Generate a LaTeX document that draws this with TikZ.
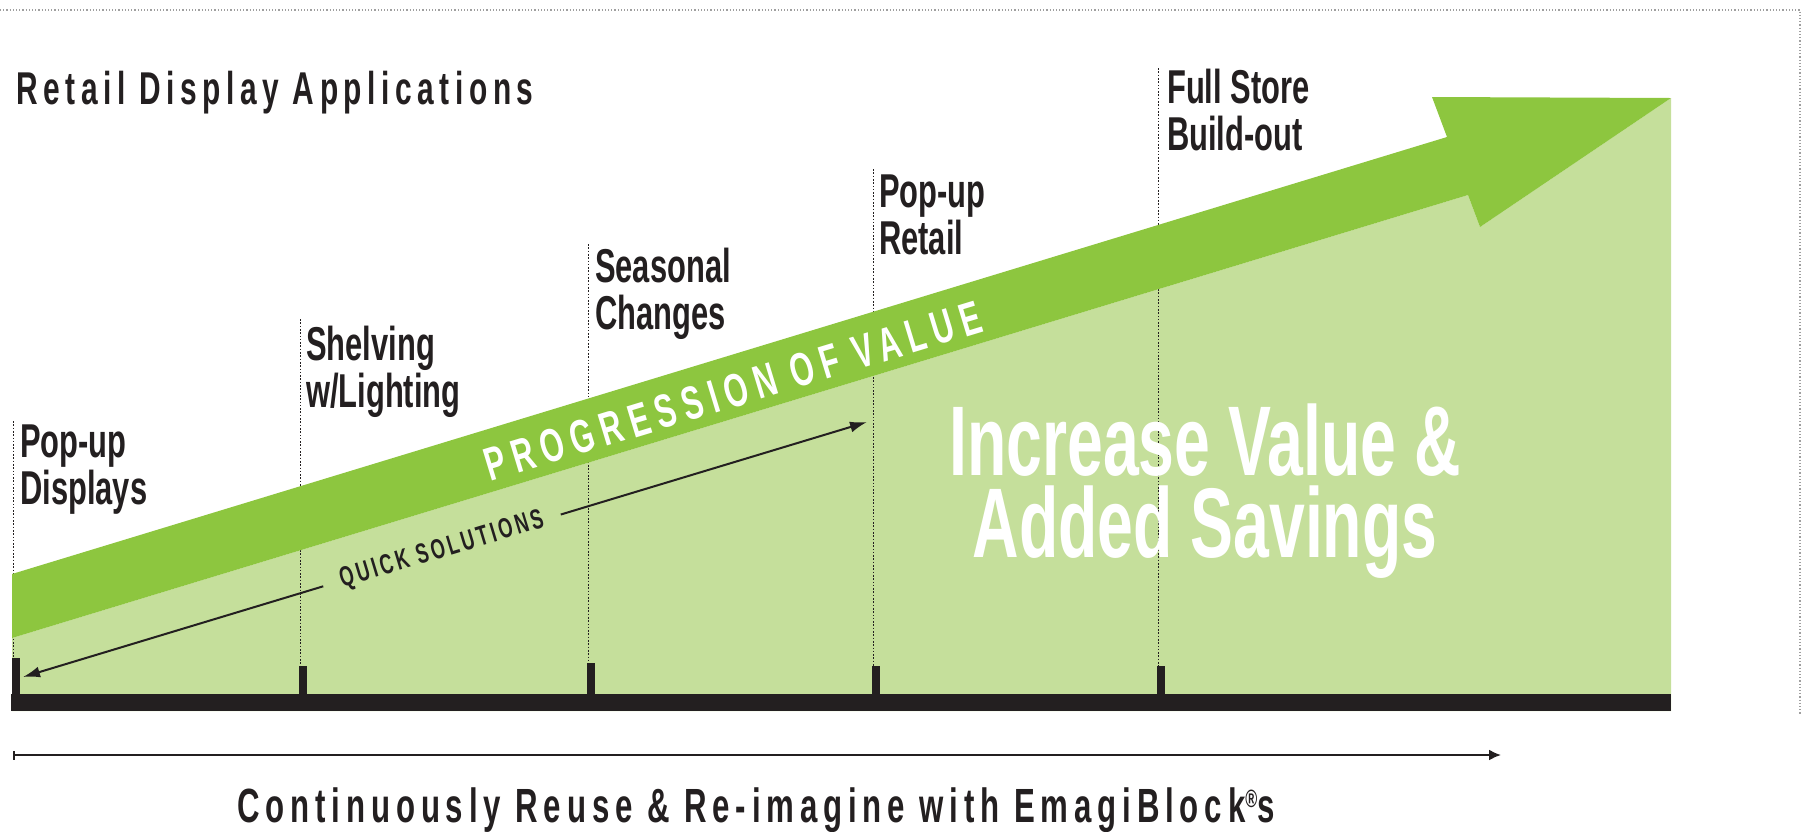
\documentclass[tikz,border=0pt]{standalone}
\usepackage{fontspec}
\setmainfont{Liberation Sans}
\newfontfamily\din[FakeStretch=0.65]{Liberation Sans}
\usetikzlibrary{arrows.meta}
\definecolor{dg}{HTML}{8DC63F}
\definecolor{lg}{HTML}{C5DF9B}
\definecolor{ink}{HTML}{231F20}
\begin{document}
\begin{tikzpicture}[x=1pt,y=-1pt,
  lbl/.style={anchor=base west, inner sep=0pt, align=left, text=ink, font=\din\bfseries\fontsize{47.5}{47}\selectfont},
  dotv/.style={ink, line width=1.8pt, dash pattern=on 1.6pt off 1.7pt},
  tickbox/.style={fill=ink, draw=none, inner sep=0pt, minimum width=8pt, anchor=south west},
  qarrow/.style={ink, line width=2pt, -{Latex[length=17pt,width=11pt]}},
]
\useasboundingbox (0,0) rectangle (1806,831);
% frame dots
\coordinate (fL) at (0,10);
\coordinate (fC) at (1800,10);
\coordinate (fB) at (1800,714);
\draw[gray!75, line width=1.3pt, dash pattern=on 1.2pt off 2pt] (fL) -- (fC) -- (fB);
% light green area
\fill[lg] (12,711) -- (12,638) -- (1468,195) -- (1480,227) -- (1671,98) -- (1671,711) -- cycle;
% ticks
\node[tickbox, minimum height=36pt] (t1) at (12,694) {};
\node[tickbox, minimum height=28pt] (t2) at (299,694) {};
\node[tickbox, minimum height=31pt] (t3) at (587,694) {};
\node[tickbox, minimum height=28pt] (t4) at (872,694) {};
\node[tickbox, minimum height=28pt] (t5) at (1157,694) {};
% dotted verticals
\coordinate (d1) at (13.5,421);
\coordinate (d2) at (300.5,319);
\coordinate (d3) at (588.5,244);
\coordinate (d4) at (873.5,169);
\coordinate (d5) at (1158.5,68);
\foreach \i in {1,...,5} \draw[dotv] (d\i) -- (d\i |- t\i.north);
% dark arrow
\fill[dg] (12,574) -- (1447,137) -- (1432,97) -- (1671,98) -- (1480,227) -- (1468,195) -- (12,638) -- cycle;
% base bar
\fill[ink] (11,694) rectangle (1671,711);
% title
\node[anchor=base west, inner sep=0pt, text=ink, font={\din\bfseries\fontsize{46}{46}\selectfont\addfontfeature{LetterSpace=12.1}}] (title) at (16,104) {Retail Display Applications};
% labels (anchor = baseline of last line)
\node[lbl] (l1) at (20,504) {Pop-up\\Displays};
\node[lbl] (l2) at (306,407) {Shelving\\w/Lighting};
\node[lbl] (l3) at (595,329) {Seasonal\\Changes};
\node[lbl] (l4) at (879,254) {Pop-up\\Retail};
\node[lbl] (l5) at (1167,150) {Full Store\\Build-out};
% progression
\node[rotate=16.94, inner sep=0pt, text=white, font={\din\bfseries\fontsize{47}{47}\selectfont\addfontfeature{LetterSpace=16}}] (prog) at (733,391) {PROGRESSION OF VALUE};
% big text
\node[anchor=base, align=center, inner sep=0pt, text=white, font=\din\bfseries\fontsize{99}{82}\selectfont] (big) at (1205,557) {Increase Value \&\\Added Savings};
% quick solutions
\node[rotate=16.81, inner xsep=18pt, inner ysep=2pt, text=ink, font={\din\bfseries\fontsize{28}{28}\selectfont\addfontfeature{LetterSpace=11.5}}] (qs) at (442,550.4) {QUICK SOLUTIONS};
\coordinate (qL) at (23,677);
\coordinate (qR) at (867,422);
\draw[qarrow] (qs) -- (qL);
\draw[qarrow] (qs) -- (qR);
% bottom arrow
\coordinate (bL) at (13,755);
\coordinate (bR) at (1501,755);
\draw[ink, line width=2pt, {Bar[width=9pt,line width=2pt]}-{Latex[length=12pt,width=11pt]}] (bL) -- (bR);
\node[anchor=base, inner sep=0pt, text=ink, font={\din\bfseries\fontsize{48}{48}\selectfont\addfontfeature{LetterSpace=12.2}}] (foot) at (756,822) {Continuously Reuse \& Re-imagine with EmagiBlock{\fontsize{25}{25}\selectfont\raisebox{15pt}{®}}s};
\end{tikzpicture}
\end{document}
